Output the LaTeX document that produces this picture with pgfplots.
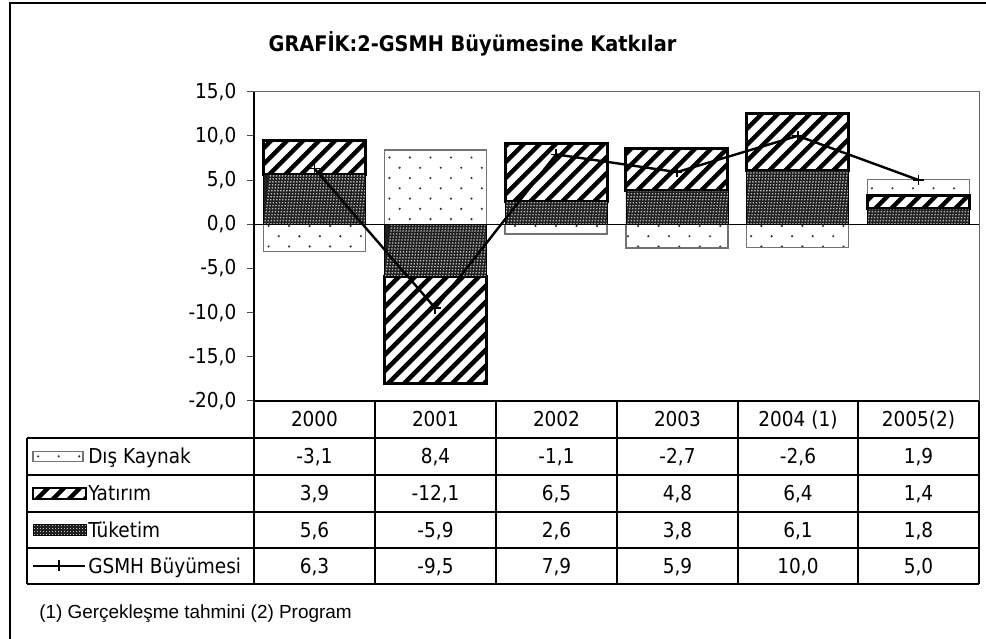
\documentclass[border=0pt]{standalone}
\usepackage{fontspec}
\setmainfont{DejaVu Sans Condensed}
\newfontfamily\arialf{Liberation Sans}
\usepackage{pgfplots}
\pgfplotsset{compat=1.18}
\usepackage{pgfplotstable}

\newcommand\tabfont{\fontsize{15.4}{18}\selectfont}
\newcommand\titlefont{\bfseries\fontsize{16.1}{19}\selectfont}

% segments stacked upwards from 0 (order: Tuketim, Yatirim, Dis Kaynak)
\pgfplotstableread{
x tuk yat dis
0 5.6 3.9 0
1 0 0 8.4
2 2.6 6.5 0
3 3.8 4.8 0
4 6.1 6.4 0
5 1.8 1.4 1.9
}\possegs
% segments stacked downwards from 0
\pgfplotstableread{
x tuk yat dis
0 0 0 -3.1
1 -5.9 -12.1 0
2 0 0 -1.1
3 0 0 -2.7
4 0 0 -2.6
5 0 0 0
}\negsegs
\pgfplotstableread{
x g
0 6.3
1 -9.5
2 7.9
3 5.9
4 10.0
5 5.0
}\gsmh

\tikzset{
 stripesfill/.style={path picture={
   \coordinate (pp) at (path picture bounding box.south west);
   \foreach \i in {-22,...,48}
     \draw[black, line width=3.4pt] ([xshift=\i*12pt, yshift=-3pt]pp) -- ++(270pt,270pt);}},
 sdotsfill/.style={path picture={
   \coordinate (pp) at (path picture bounding box.south west);
   \foreach \i in {0,...,36} \foreach \j in {0,...,15} {
     \fill[black!80] ([xshift=\i*15.4pt+3.85pt, yshift=\j*15.4pt+3.85pt]pp) circle (0.9pt);
     \fill[black!80] ([xshift=\i*15.4pt+11.55pt, yshift=\j*15.4pt+11.55pt]pp) circle (0.9pt);}}},
 fdotsfill/.style={path picture={
   \coordinate (pp) at (path picture bounding box.south west);
   \foreach \i in {0,...,245}
     \draw[white!72!black, line width=1.0pt, dash pattern=on 1.0pt off 1.25pt]
       ([xshift=\i*2.25pt+1.1pt]pp) -- ++(0,250pt);}},
 diskaynak/.style={fill=none, draw=none,
   postaction={fill=white},
   postaction={sdotsfill},
   postaction={draw=black!55, line width=0.9pt}},
 yatirim/.style={fill=none, draw=none,
   postaction={fill=white},
   postaction={stripesfill},
   postaction={draw=black, line width=2.2pt}},
 tuketim/.style={fill=none, draw=none,
   postaction={fill=black!88},
   postaction={fdotsfill},
   postaction={draw=black, line width=0.6pt}},
}

\pgfplotsset{
 basebox/.style={
  at={(190.5pt,178.5pt)}, anchor=south west, scale only axis,
  width=543.75pt, height=232pt,
  xmin=-0.5, xmax=5.5, ymin=-20, ymax=15,
 },
 hiddenbox/.style={basebox, hide axis, clip=false},
}

\begin{document}
\begin{tikzpicture}
\begin{scope}[x=0.75pt,y=0.75pt]
\useasboundingbox (0,0) rectangle (986,639);
\draw[line width=1.5pt] (10,-20) -- (10,636) -- (1010,636);
\node[anchor=base, font=\titlefont, inner sep=0pt] at (472.5,587) {GRAFİK:2-GSMH Büyümesine Katkılar};
% plot area border (top, right)
\draw[black!60, line width=0.75pt] (254,547.3) -- (979,547.3) -- (979,238);
\end{scope}

% positive stack with y axis
\begin{axis}[basebox,
  axis x line=none, axis y line*=left,
  xtick=\empty, ytick={-20,-15,...,15},
  tick align=outside, major tick length=5.25pt,
  y axis line style={black, line width=1pt, -},
  ytick style={black!70, line width=0.75pt},
  yticklabel style={font=\tabfont, xshift=-4.5pt,
    /pgf/number format/.cd, fixed, fixed zerofill, precision=1, use comma, assume math mode=true},
  ybar stacked, bar width=76.5pt]
 \addplot[tuketim] table[x=x,y=tuk]{\possegs};
 \addplot[yatirim] table[x=x,y=yat]{\possegs};
 \addplot[diskaynak] table[x=x,y=dis]{\possegs};
\end{axis}

% negative stack
\begin{axis}[hiddenbox, ybar stacked, bar width=76.5pt]
 \addplot[tuketim] table[x=x,y=tuk]{\negsegs};
 \addplot[yatirim] table[x=x,y=yat]{\negsegs};
 \addplot[diskaynak] table[x=x,y=dis]{\negsegs};
\end{axis}

% zero line and GSMH line
\begin{axis}[hiddenbox]
 \draw[black, line width=0.75pt] (axis cs:-0.5,0) -- (axis cs:5.5,0);
 \addplot[black, line width=1.8pt, mark=+, mark size=4pt, mark options={line width=1.3pt}] table[x=x,y=g]{\gsmh};
\end{axis}

\begin{scope}[x=0.75pt,y=0.75pt]
% data table
\begin{scope}[line width=1.5pt]
 \draw (254,238) -- (979,238);
 \foreach \yy in {201,164,127,91,55} \draw (27,\yy) -- (979,\yy);
 \draw (27,201) -- (27,55);
 \foreach \xx in {254,375,496,617,738,858,979} \draw (\xx,238) -- (\xx,55);
\end{scope}

\foreach \x/\t in {314.5/2000,435.5/2001,556.5/2002,677.5/2003,798/{2004 (1)},918.5/{2005(2)}}
  \node[anchor=base, font=\tabfont, inner sep=0pt] at (\x,212) {\t};
\foreach \x/\v in {314.5/{-3,1},435.5/{8,4},556.5/{-1,1},677.5/{-2,7},798/{-2,6},918.5/{1,9}}
  \node[anchor=base, font=\tabfont, inner sep=0pt] at (\x,175) {\v};
\foreach \x/\v in {314.5/{3,9},435.5/{-12,1},556.5/{6,5},677.5/{4,8},798/{6,4},918.5/{1,4}}
  \node[anchor=base, font=\tabfont, inner sep=0pt] at (\x,138) {\v};
\foreach \x/\v in {314.5/{5,6},435.5/{-5,9},556.5/{2,6},677.5/{3,8},798/{6,1},918.5/{1,8}}
  \node[anchor=base, font=\tabfont, inner sep=0pt] at (\x,101.5) {\v};
\foreach \x/\v in {314.5/{6,3},435.5/{-9,5},556.5/{7,9},677.5/{5,9},798/{10,0},918.5/{5,0}}
  \node[anchor=base, font=\tabfont, inner sep=0pt] at (\x,65.5) {\v};

% legend keys
\path[diskaynak] (33,177.5) rectangle (83,187.5);
\path[postaction={fill=white}, postaction={stripesfill}, postaction={draw=black, line width=1.2pt}] (33,140) rectangle (86,151);
\path[tuketim] (33,103.5) rectangle (86,114.5);
\draw[black, line width=1.5pt] (33,73) -- (85,73);
\draw[black, line width=1.2pt] (59,67.5) -- (59,78.5);

\node[anchor=base west, font=\tabfont, inner sep=0pt] at (88,175) {Dış Kaynak};
\node[anchor=base west, font=\tabfont, inner sep=0pt] at (88,138) {Yatırım};
\node[anchor=base west, font=\tabfont, inner sep=0pt] at (88,101.5) {Tüketim};
\node[anchor=base west, font=\tabfont, inner sep=0pt] at (88,65.5) {GSMH Büyümesi};

\node[anchor=base west, font=\arialf\fontsize{14.2}{17}\selectfont, inner sep=0pt] at (39,20) {(1) Gerçekleşme tahmini (2) Program};
\end{scope}
\end{tikzpicture}
\end{document}
